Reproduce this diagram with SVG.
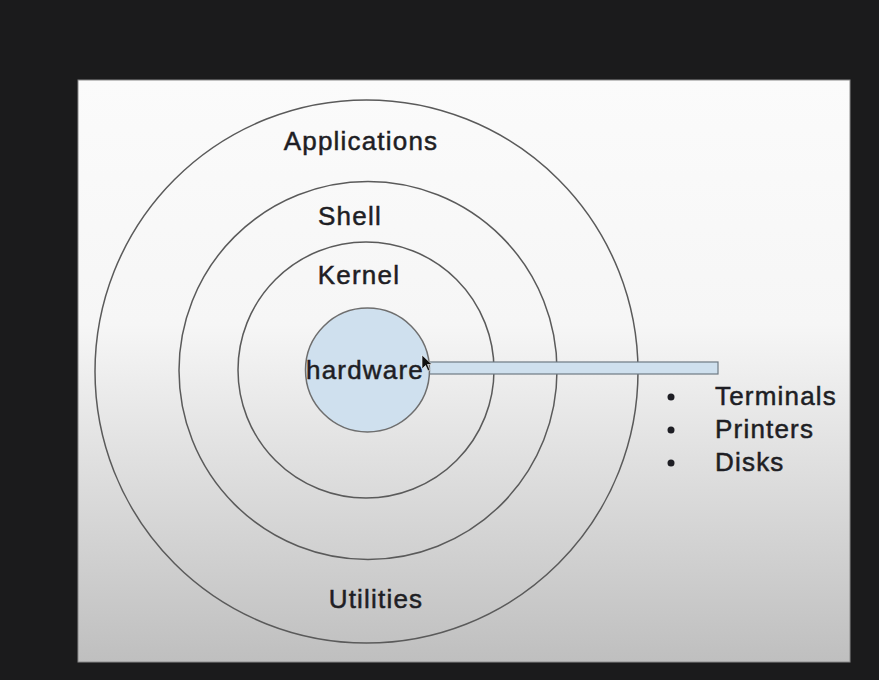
<svg xmlns="http://www.w3.org/2000/svg" width="879" height="680" viewBox="0 0 879 680">
<defs>
<linearGradient id="bg" x1="0" y1="0" x2="0" y2="1">
<stop offset="0" stop-color="#fbfbfb"/>
<stop offset="0.42" stop-color="#f6f6f6"/>
<stop offset="1" stop-color="#bfbfbf"/>
</linearGradient>
<style>
.ring{fill:none;stroke:#5a5a5a;stroke-width:1.5}
.lbl{font-family:"Liberation Sans",Arial,sans-serif;font-size:26px;fill:#1e1e24;stroke:#1e1e24;stroke-width:0.5;letter-spacing:1.2px}
.blt{fill:#1e1e24}
</style>
</defs>
<rect x="0" y="0" width="879" height="680" fill="#1b1b1c"/>
<rect x="78" y="80" width="772" height="582" fill="url(#bg)" stroke="#8a8a8a" stroke-width="1"/>
<g id="applications">
<circle class="ring" cx="366.5" cy="371.5" r="271.5"/>
<text class="lbl" x="361" y="150" text-anchor="middle">Applications</text>
<text class="lbl" x="376" y="608" text-anchor="middle">Utilities</text>
</g>
<g id="shell">
<circle class="ring" cx="368" cy="370.5" r="189"/>
<text class="lbl" x="350" y="225" text-anchor="middle">Shell</text>
</g>
<g id="kernel">
<circle class="ring" cx="366" cy="370" r="128"/>
<text class="lbl" x="359" y="284" text-anchor="middle">Kernel</text>
</g>
<g id="connectors">
<rect x="426" y="362" width="292" height="12" fill="#cfe0ee" stroke="#6e7a84" stroke-width="1.2"/>
</g>
<g id="hardware">
<circle cx="367.5" cy="370" r="62" fill="#cfe0ee" stroke="#6e6e6e" stroke-width="1.5"/>
<text class="lbl" x="365" y="379" text-anchor="middle" font-size="28">hardware</text>
</g>
<g id="devices">
<circle class="blt" cx="671" cy="397" r="3.5"/>
<circle class="blt" cx="671" cy="430" r="3.5"/>
<circle class="blt" cx="671" cy="463" r="3.5"/>
<text class="lbl" x="715" y="405">Terminals</text>
<text class="lbl" x="715" y="438">Printers</text>
<text class="lbl" x="715" y="471">Disks</text>
</g>
<path d="M422 355 L422 369 L425.5 365.5 L428 371 L430 370 L427.5 364.5 L432 364.5 Z" fill="#111" stroke="#fff" stroke-width="0.6"/>
</svg>
